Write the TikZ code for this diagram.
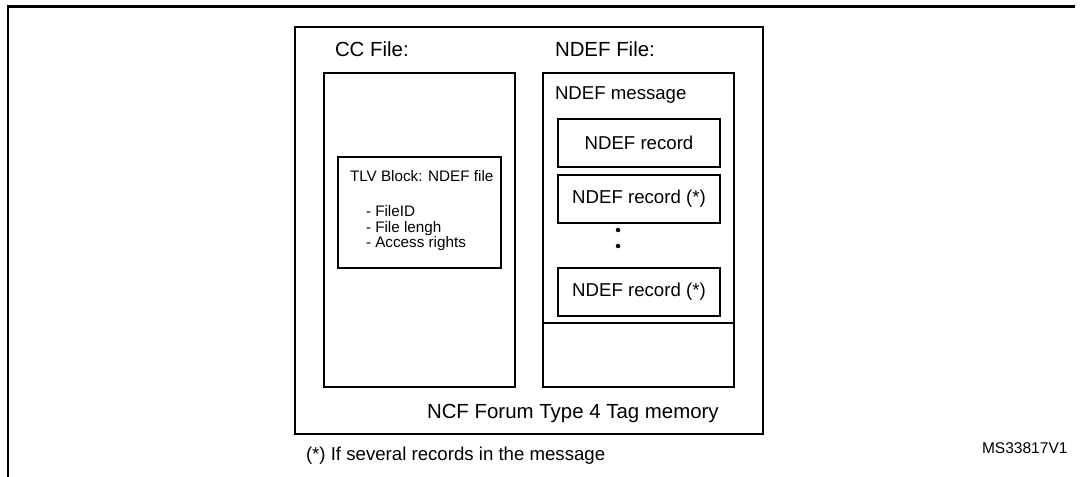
\documentclass[tikz,border=0pt]{standalone}
\usepackage{fontspec}
\setmainfont{Liberation Sans}
\begin{document}
\begin{tikzpicture}[x=1bp,y=-1bp,
  box/.style={draw, line width=1.6bp, inner sep=0pt, outer sep=0pt, anchor=north west},
  recbox/.style={box, line width=1.4bp, minimum width=162bp, minimum height=48bp, font=\fontsize{18.7}{22}\selectfont},
  lbl/.style={inner sep=0pt, outer sep=0pt, anchor=base west},
  big/.style={lbl, font=\fontsize{20.5}{24}\selectfont},
  mid/.style={lbl, font=\fontsize{18.7}{22}\selectfont},
  small/.style={lbl, font=\fontsize{15.3}{18}\selectfont},
  dot/.style={circle, fill, inner sep=0pt, minimum size=4.5bp},
]
\useasboundingbox (0,0) rectangle (1080,477);
% page frame
\coordinate (ftr) at (1075,6.5);
\coordinate (ftl) at (8,6.5);
\coordinate (fbl) at (8,477);
\draw[line width=2.6bp] (ftr) -- (ftl) -- (fbl);

% outer memory box
\node[box, minimum width=468bp, minimum height=407bp] (mem) at (295,27) {};
% CC file box
\node[box, minimum width=191bp, minimum height=314bp] (cc) at (324,73) {};
% NDEF file box
\node[box, minimum width=191bp, minimum height=314bp] (ndef) at (543,73) {};
\coordinate (div) at (600,323);
\draw[line width=1.6bp] (ndef.west |- div) -- (ndef.east |- div);

% labels
\node[big] (cclbl) at (335,57) {CC File:};
\node[big] (ndeflbl) at (555,57) {NDEF File:};
\node[mid] (msg) at (555,100) {NDEF message};

% records
\node[recbox] (r1) at (558,119) {NDEF record};
\node[recbox] (r2) at (558,175) {NDEF record (*)};
\node[dot] (d1) at (618,230) {};
\node[dot] (d2) at (618,246) {};
\node[recbox] (r3) at (558,268) {NDEF record (*)};

% TLV block
\node[box, line width=1.4bp, minimum width=163bp, minimum height=111bp] (tlv) at (338,157) {};
\node[small] (tlvt) at (350,182) {TLV Block: NDEF file};
\node[small] (tlv1) at (366,217) {- FileID};
\node[small] (tlv2) at (366,232.5) {- File lengh};
\node[small] (tlv3) at (366,248) {- Access rights};

% bottom texts
\node[big] (memlbl) at (427,418) {NCF Forum Type 4 Tag memory};
\node[mid] (foot) at (306,460) {(*) If several records in the message};
\node[lbl, font=\fontsize{15.6}{18}\selectfont] (ms) at (982,453) {MS33817V1};
\end{tikzpicture}
\end{document}
